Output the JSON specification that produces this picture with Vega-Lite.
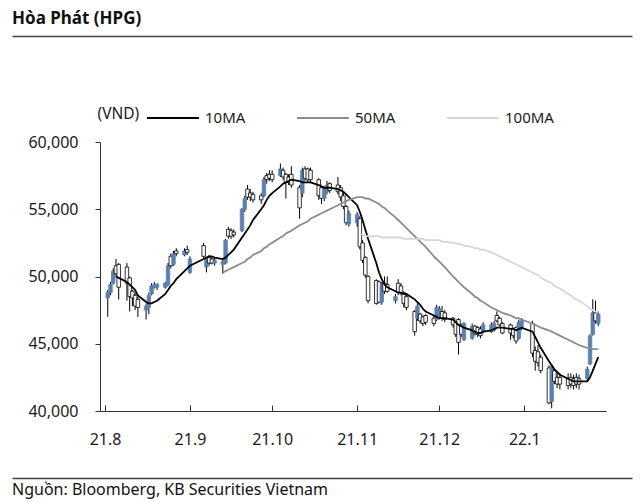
{
"$schema": "https://vega.github.io/schema/vega-lite/v6.json",
"background": "white",
"padding": {"left": 12, "top": 10, "right": 8, "bottom": 3},
"config": {"font": "Noto Sans", "view": {"stroke": null}, "axis": {"grid": false, "labelFont": "Noto Sans", "labelFontSize": 16, "labelColor": "#1a1a1a", "domainColor": "#333333", "tickColor": "#333333"}, "title": {"font": "Noto Sans"}, "legend": {"labelFont": "Noto Sans"}},
"spacing": 31,
"resolve": {"scale": {"x": "independent", "y": "independent", "color": "independent"}},
"datasets": {"px": [
{"d":"2021-08-02","o":48400,"h":49000,"l":47000,"c":48800},
{"d":"2021-08-03","o":48800,"h":49600,"l":48600,"c":49400},
{"d":"2021-08-04","o":49500,"h":50600,"l":49400,"c":50400},
{"d":"2021-08-05","o":50800,"h":51300,"l":50000,"c":50200,"10MA":50000},
{"d":"2021-08-06","o":50900,"h":51000,"l":48300,"c":49200,"10MA":49900},
{"d":"2021-08-09","o":50700,"h":51000,"l":48200,"c":49500,"10MA":49600},
{"d":"2021-08-10","o":49900,"h":50000,"l":47400,"c":48500,"10MA":49400},
{"d":"2021-08-11","o":48900,"h":49000,"l":47800,"c":48400,"10MA":49200},
{"d":"2021-08-12","o":48600,"h":48800,"l":47500,"c":47800,"10MA":49000},
{"d":"2021-08-13","o":48300,"h":48500,"l":47000,"c":47700,"10MA":48600},
{"d":"2021-08-16","o":47500,"h":48000,"l":46800,"c":47800,"10MA":48100},
{"d":"2021-08-17","o":47700,"h":48800,"l":47200,"c":48600,"10MA":48000},
{"d":"2021-08-18","o":48700,"h":49500,"l":48600,"c":49300,"10MA":48000},
{"d":"2021-08-19","o":49200,"h":49600,"l":49100,"c":49400,"10MA":48100},
{"d":"2021-08-20","o":49200,"h":49500,"l":49000,"c":49400,"10MA":48200},
{"d":"2021-08-23","o":49200,"h":49600,"l":49100,"c":49500,"10MA":48700},
{"d":"2021-08-24","o":49400,"h":51000,"l":49300,"c":50800,"10MA":49000},
{"d":"2021-08-25","o":51500,"h":51700,"l":50600,"c":50800,"10MA":49300},
{"d":"2021-08-26","o":50900,"h":51900,"l":50800,"c":51700,"10MA":49500},
{"d":"2021-08-27","o":51900,"h":52100,"l":51500,"c":51700,"10MA":49800},
{"d":"2021-08-30","o":51600,"h":52100,"l":51500,"c":51900,"10MA":50400},
{"d":"2021-08-31","o":52000,"h":52300,"l":51600,"c":51800,"10MA":50600},
{"d":"2021-09-01","o":50300,"h":51500,"l":50200,"c":51300,"10MA":50800},
{"d":"2021-09-06","o":52300,"h":52500,"l":51300,"c":51500,"10MA":51300},
{"d":"2021-09-07","o":50700,"h":51400,"l":50300,"c":51300,"10MA":51400},
{"d":"2021-09-08","o":51400,"h":51600,"l":50800,"c":51000,"10MA":51500},
{"d":"2021-09-09","o":51300,"h":51500,"l":50900,"c":51000,"10MA":51500},
{"d":"2021-09-10","o":51000,"h":51400,"l":50800,"c":51200,"10MA":51400},
{"d":"2021-09-13","o":50900,"h":51300,"l":50200,"c":51100,"10MA":51300,"50MA":50300},
{"d":"2021-09-14","o":51000,"h":52800,"l":50900,"c":52700,"10MA":51400,"50MA":50400},
{"d":"2021-09-15","o":53500,"h":53700,"l":52800,"c":53000,"10MA":51600,"50MA":50500},
{"d":"2021-09-16","o":53400,"h":53600,"l":52800,"c":53000,"10MA":51800,"50MA":50600},
{"d":"2021-09-17","o":53300,"h":53500,"l":52900,"c":53100,"10MA":52000,"50MA":50700},
{"d":"2021-09-20","o":53400,"h":55100,"l":53300,"c":55000,"10MA":52900,"50MA":51000},
{"d":"2021-09-21","o":55000,"h":56000,"l":54800,"c":55800,"10MA":53200,"50MA":51100},
{"d":"2021-09-22","o":56500,"h":56800,"l":55700,"c":55900,"10MA":53500,"50MA":51300},
{"d":"2021-09-23","o":56200,"h":56500,"l":55600,"c":55900,"10MA":53800,"50MA":51400},
{"d":"2021-09-24","o":56100,"h":56300,"l":55500,"c":55700,"10MA":54200,"50MA":51600},
{"d":"2021-09-27","o":56000,"h":56200,"l":55400,"c":55700,"10MA":55000,"50MA":51900},
{"d":"2021-09-28","o":56000,"h":57400,"l":55900,"c":57200,"10MA":55300,"50MA":52100},
{"d":"2021-09-29","o":57500,"h":57700,"l":56900,"c":57200,"10MA":55700,"50MA":52200},
{"d":"2021-09-30","o":57600,"h":57900,"l":57100,"c":57300,"10MA":56000,"50MA":52400},
{"d":"2021-10-01","o":57600,"h":57900,"l":57000,"c":57200,"10MA":56200,"50MA":52500},
{"d":"2021-10-04","o":57500,"h":58400,"l":57400,"c":58000,"10MA":56700,"50MA":52900},
{"d":"2021-10-05","o":57900,"h":58100,"l":57200,"c":57400,"10MA":56900,"50MA":53000},
{"d":"2021-10-06","o":57600,"h":57700,"l":55800,"c":57000,"10MA":57000,"50MA":53200},
{"d":"2021-10-07","o":57400,"h":57600,"l":56800,"c":57000,"10MA":57100,"50MA":53300},
{"d":"2021-10-08","o":57600,"h":58200,"l":56600,"c":56800,"10MA":57200,"50MA":53400},
{"d":"2021-10-11","o":56600,"h":56800,"l":54300,"c":55100,"10MA":57100,"50MA":53800},
{"d":"2021-10-12","o":56200,"h":58100,"l":55900,"c":57900,"10MA":57000,"50MA":53900},
{"d":"2021-10-13","o":58000,"h":58200,"l":57100,"c":57300,"10MA":57000,"50MA":54000},
{"d":"2021-10-14","o":58000,"h":58100,"l":57000,"c":57200,"10MA":57000,"50MA":54100},
{"d":"2021-10-15","o":57900,"h":58100,"l":57000,"c":57200,"10MA":57000,"50MA":54300},
{"d":"2021-10-18","o":57200,"h":57300,"l":55700,"c":56000,"10MA":56800,"50MA":54600},
{"d":"2021-10-19","o":56600,"h":56800,"l":55400,"c":55800,"10MA":56700,"50MA":54700},
{"d":"2021-10-20","o":55800,"h":56700,"l":55600,"c":56500,"10MA":56600,"50MA":54800},
{"d":"2021-10-21","o":56300,"h":57100,"l":56100,"c":56800,"10MA":56600,"50MA":54900},
{"d":"2021-10-22","o":56900,"h":57000,"l":56200,"c":56400,"10MA":56600,"50MA":55000},
{"d":"2021-10-25","o":56800,"h":57400,"l":56100,"c":56300,"10MA":56500,"50MA":55300},
{"d":"2021-10-26","o":56600,"h":56800,"l":55600,"c":55900,"10MA":56400,"50MA":55400},
{"d":"2021-10-27","o":56000,"h":56200,"l":55000,"c":55200,"10MA":56300,"50MA":55500},
{"d":"2021-10-28","o":55200,"h":55300,"l":53800,"c":54000,"10MA":56100,"50MA":55600},
{"d":"2021-10-29","o":53900,"h":54900,"l":53700,"c":54700,"10MA":55900,"50MA":55700},
{"d":"2021-11-01","o":54000,"h":54800,"l":53700,"c":54600,"10MA":55300,"50MA":55900},
{"d":"2021-11-02","o":54300,"h":54500,"l":52000,"c":52200,"10MA":54800,"50MA":55900,"100MA":53200},
{"d":"2021-11-03","o":52500,"h":52700,"l":51000,"c":51200,"10MA":54200,"50MA":55900,"100MA":53100},
{"d":"2021-11-04","o":51400,"h":51500,"l":49900,"c":50100,"10MA":53500,"50MA":55800,"100MA":53000},
{"d":"2021-11-05","o":50000,"h":50100,"l":48000,"c":48200,"10MA":52800,"50MA":55800,"100MA":53000},
{"d":"2021-11-08","o":49700,"h":49800,"l":47900,"c":48000,"10MA":51000,"50MA":55500,"100MA":53000},
{"d":"2021-11-09","o":49600,"h":49700,"l":48000,"c":48100,"10MA":50300,"50MA":55400,"100MA":53000},
{"d":"2021-11-10","o":48100,"h":49600,"l":47900,"c":49400,"10MA":49800,"50MA":55200,"100MA":52900},
{"d":"2021-11-11","o":49500,"h":50000,"l":48700,"c":48900,"10MA":49400,"50MA":55100,"100MA":52900},
{"d":"2021-11-12","o":49400,"h":50000,"l":48800,"c":48900,"10MA":49200,"50MA":54900,"100MA":52900},
{"d":"2021-11-15","o":48200,"h":48700,"l":48000,"c":48500,"10MA":48900,"50MA":54400,"100MA":52900},
{"d":"2021-11-16","o":49500,"h":49800,"l":48600,"c":48800,"10MA":48800,"50MA":54200,"100MA":52900},
{"d":"2021-11-17","o":49300,"h":49500,"l":48600,"c":48800,"10MA":48800,"50MA":54000,"100MA":52900},
{"d":"2021-11-18","o":48800,"h":48900,"l":47700,"c":48000,"10MA":48700,"50MA":53800,"100MA":52800},
{"d":"2021-11-19","o":48500,"h":48700,"l":47500,"c":47700,"10MA":48700,"50MA":53600,"100MA":52800},
{"d":"2021-11-22","o":47400,"h":47500,"l":45600,"c":45900,"10MA":48300,"50MA":53000,"100MA":52800},
{"d":"2021-11-23","o":46900,"h":48000,"l":46700,"c":47800,"10MA":48100,"50MA":52800,"100MA":52800},
{"d":"2021-11-24","o":47200,"h":47300,"l":46500,"c":46700,"10MA":47900,"50MA":52600,"100MA":52800},
{"d":"2021-11-25","o":47000,"h":47100,"l":46300,"c":46500,"10MA":47600,"50MA":52400,"100MA":52800},
{"d":"2021-11-26","o":47100,"h":47200,"l":46400,"c":46600,"10MA":47400,"50MA":52200,"100MA":52700},
{"d":"2021-11-29","o":46900,"h":47100,"l":46300,"c":46500,"10MA":47100,"50MA":51500,"100MA":52700},
{"d":"2021-11-30","o":46800,"h":47900,"l":46700,"c":47700,"10MA":47000,"50MA":51300,"100MA":52700},
{"d":"2021-12-01","o":46900,"h":47800,"l":46800,"c":47600,"10MA":46900,"50MA":51100,"100MA":52700},
{"d":"2021-12-02","o":47400,"h":47800,"l":46700,"c":46900,"10MA":46900,"50MA":50900,"100MA":52600},
{"d":"2021-12-03","o":47300,"h":47500,"l":46600,"c":46800,"10MA":46900,"50MA":50700,"100MA":52600},
{"d":"2021-12-06","o":46900,"h":47000,"l":46200,"c":46400,"10MA":46800,"50MA":50000,"100MA":52500},
{"d":"2021-12-07","o":46600,"h":46700,"l":45500,"c":45700,"10MA":46600,"50MA":49800,"100MA":52500},
{"d":"2021-12-08","o":46800,"h":46900,"l":44200,"c":45100,"10MA":46400,"50MA":49600,"100MA":52400},
{"d":"2021-12-09","o":46400,"h":46500,"l":45500,"c":45700,"10MA":46300,"50MA":49400,"100MA":52400},
{"d":"2021-12-10","o":45300,"h":46600,"l":45200,"c":46500,"10MA":46200,"50MA":49200,"100MA":52300},
{"d":"2021-12-13","o":45400,"h":46500,"l":45300,"c":46300,"10MA":46000,"50MA":48700,"100MA":52200},
{"d":"2021-12-14","o":46300,"h":46400,"l":45600,"c":45800,"10MA":45900,"50MA":48500,"100MA":52100},
{"d":"2021-12-15","o":46200,"h":46300,"l":45500,"c":45700,"10MA":45800,"50MA":48400,"100MA":52100},
{"d":"2021-12-16","o":46100,"h":46300,"l":45400,"c":45600,"10MA":45800,"50MA":48200,"100MA":52000},
{"d":"2021-12-17","o":45900,"h":46600,"l":45800,"c":46400,"10MA":45900,"50MA":48100,"100MA":52000},
{"d":"2021-12-20","o":45900,"h":46600,"l":45800,"c":46400,"10MA":46000,"50MA":47700,"100MA":51800},
{"d":"2021-12-21","o":46000,"h":46700,"l":45900,"c":46500,"10MA":46100,"50MA":47600,"100MA":51700},
{"d":"2021-12-22","o":47100,"h":47400,"l":46600,"c":46700,"10MA":46200,"50MA":47500,"100MA":51600},
{"d":"2021-12-23","o":46900,"h":47000,"l":46300,"c":46400,"10MA":46200,"50MA":47400,"100MA":51500},
{"d":"2021-12-24","o":46500,"h":46600,"l":45700,"c":45800,"10MA":46200,"50MA":47300,"100MA":51400},
{"d":"2021-12-27","o":46400,"h":46500,"l":45300,"c":45800,"10MA":46100,"50MA":47100,"100MA":51100},
{"d":"2021-12-28","o":46100,"h":46200,"l":45400,"c":45600,"10MA":46100,"50MA":47000,"100MA":51000},
{"d":"2021-12-29","o":46200,"h":46300,"l":45000,"c":45200,"10MA":46000,"50MA":46900,"100MA":50900},
{"d":"2021-12-30","o":45400,"h":46800,"l":45300,"c":46600,"10MA":46100,"50MA":46900,"100MA":50800},
{"d":"2021-12-31","o":46200,"h":46900,"l":46000,"c":46700,"10MA":46200,"50MA":46800,"100MA":50700},
{"d":"2022-01-04","o":46500,"h":46700,"l":44000,"c":44300,"10MA":45900,"50MA":46500,"100MA":50300},
{"d":"2022-01-05","o":44500,"h":44800,"l":43000,"c":43700,"10MA":45500,"50MA":46400,"100MA":50200},
{"d":"2022-01-06","o":44400,"h":44900,"l":43300,"c":43600,"10MA":45100,"50MA":46300,"100MA":50100},
{"d":"2022-01-07","o":44000,"h":44200,"l":42800,"c":43000,"10MA":44700,"50MA":46200,"100MA":49900},
{"d":"2022-01-10","o":43200,"h":43400,"l":40500,"c":40600,"10MA":43700,"50MA":46000,"100MA":49600},
{"d":"2022-01-11","o":40700,"h":43500,"l":40200,"c":43300,"10MA":43400,"50MA":45900,"100MA":49500},
{"d":"2022-01-12","o":43000,"h":43100,"l":42000,"c":42200,"10MA":43100,"50MA":45800,"100MA":49300},
{"d":"2022-01-13","o":42500,"h":42800,"l":41700,"c":42000,"10MA":42900,"50MA":45700,"100MA":49200},
{"d":"2022-01-14","o":42500,"h":42800,"l":41600,"c":42000,"10MA":42700,"50MA":45600,"100MA":49100},
{"d":"2022-01-17","o":42400,"h":42800,"l":41600,"c":41900,"10MA":42400,"50MA":45300,"100MA":48700},
{"d":"2022-01-18","o":42500,"h":42800,"l":41700,"c":42000,"10MA":42300,"50MA":45200,"100MA":48600},
{"d":"2022-01-19","o":42400,"h":42700,"l":41600,"c":41900,"10MA":42200,"50MA":45100,"100MA":48400},
{"d":"2022-01-20","o":42500,"h":42800,"l":41700,"c":42000,"10MA":42200,"50MA":45000,"100MA":48300},
{"d":"2022-01-21","o":42400,"h":42700,"l":41600,"c":42000,"10MA":42200,"50MA":44900,"100MA":48200},
{"d":"2022-01-24","o":42400,"h":43300,"l":42200,"c":43100,"10MA":42200,"50MA":44700,"100MA":47800},
{"d":"2022-01-25","o":43500,"h":45700,"l":43400,"c":45600,"10MA":42500,"50MA":44700,"100MA":47600},
{"d":"2022-01-26","o":45700,"h":48300,"l":45600,"c":47300,"10MA":43000,"50MA":44600,"100MA":47500},
{"d":"2022-01-27","o":47300,"h":48200,"l":46500,"c":46700,"10MA":43500,"50MA":44600,"100MA":47400},
{"d":"2022-01-28","o":46500,"h":47400,"l":46300,"c":47200,"10MA":44000,"50MA":44600,"100MA":47300}
]},
"vconcat": [
{
"width": 620, "height": 24,
"title": {"text": "Hòa Phát (HPG)", "anchor": "start", "frame": "group", "dx": -88, "fontSize": 17, "fontWeight": "bold", "color": "#111111", "offset": 8},
"data": {"values": []},
"mark": "rule",
"encoding": {"x": {"field": "u", "type": "quantitative", "scale": {"domain": [0, 1]}, "axis": {"orient": "top", "position": -88, "domain": true, "domainColor": "#444444", "domainWidth": 1.6, "ticks": false, "labels": false, "title": null}}}
},
{
"width": 506, "height": 269,
"data": {"name": "px"},
"layer": [
{
"mark": {"type": "rule", "color": "#000000", "strokeWidth": 1},
"encoding": {
"x": {"field": "d", "type": "temporal", "scale": {"type": "utc", "domain": [{"year": 2021, "month": 8, "date": 1, "utc": true}, {"year": 2022, "month": 1, "date": 29, "utc": true}]}, "axis": {"title": null, "format": "%y.%-m", "tickCount": {"interval": "month", "step": 1}, "tickSize": -6, "labelPadding": 26, "domainColor": "#333333"}},
"y": {"field": "l", "type": "quantitative", "scale": {"domain": [40000, 60000], "nice": false, "zero": false}, "axis": {"title": "(VND)", "titleAngle": 0, "titleAlign": "left", "titleBaseline": "middle", "titleX": -3, "titleY": -29, "titleFontSize": 15.5, "titleFontWeight": "normal", "titleColor": "#1a1a1a", "titleFont": "Noto Sans", "values": [40000, 45000, 50000, 55000, 60000], "format": ",.0f", "tickSize": 5, "labelPadding": 17, "minExtent": 88, "maxExtent": 88}},
"y2": {"field": "h"}
}
},
{
"mark": {"type": "bar", "size": 3.5, "strokeWidth": 0.8},
"encoding": {
"x": {"field": "d", "type": "temporal", "scale": {"type": "utc", "domain": [{"year": 2021, "month": 8, "date": 1, "utc": true}, {"year": 2022, "month": 1, "date": 29, "utc": true}]}, "axis": {"title": null, "format": "%y.%-m", "tickCount": {"interval": "month", "step": 1}, "tickSize": -6, "labelPadding": 26, "domainColor": "#333333"}},
"y": {"field": "o", "type": "quantitative", "scale": {"domain": [40000, 60000], "nice": false, "zero": false}, "axis": {"title": "(VND)", "titleAngle": 0, "titleAlign": "left", "titleBaseline": "middle", "titleX": -3, "titleY": -29, "titleFontSize": 15.5, "titleFontWeight": "normal", "titleColor": "#1a1a1a", "titleFont": "Noto Sans", "values": [40000, 45000, 50000, 55000, 60000], "format": ",.0f", "tickSize": 5, "labelPadding": 17, "minExtent": 88, "maxExtent": 88}},
"y2": {"field": "c"},
"fill": {"condition": {"test": "datum.c > datum.o", "value": "#5b80ad"}, "value": "#ffffff"},
"stroke": {"condition": {"test": "datum.c > datum.o", "value": "#5b80ad"}, "value": "#000000"}
}
},
{
"transform": [{"fold": ["10MA", "50MA", "100MA"], "as": ["key", "value"]}],
"mark": {"type": "line"},
"encoding": {
"x": {"field": "d", "type": "temporal", "scale": {"type": "utc", "domain": [{"year": 2021, "month": 8, "date": 1, "utc": true}, {"year": 2022, "month": 1, "date": 29, "utc": true}]}, "axis": {"title": null, "format": "%y.%-m", "tickCount": {"interval": "month", "step": 1}, "tickSize": -6, "labelPadding": 26, "domainColor": "#333333"}},
"y": {"field": "value", "type": "quantitative", "scale": {"domain": [40000, 60000], "nice": false, "zero": false}, "axis": {"title": "(VND)", "titleAngle": 0, "titleAlign": "left", "titleBaseline": "middle", "titleX": -3, "titleY": -29, "titleFontSize": 15.5, "titleFontWeight": "normal", "titleColor": "#1a1a1a", "titleFont": "Noto Sans", "values": [40000, 45000, 50000, 55000, 60000], "format": ",.0f", "tickSize": 5, "labelPadding": 17, "minExtent": 88, "maxExtent": 88}},
"color": {"field": "key", "type": "nominal", "scale": {"domain": ["10MA", "50MA", "100MA"], "range": ["#000000", "#8c8c8c", "#d6d6d6"]}, "legend": {"title": null, "orient": "none", "legendX": 46, "legendY": -51, "direction": "horizontal", "symbolType": "stroke", "symbolSize": 2700, "symbolStrokeWidth": 2, "labelFontSize": 15, "labelColor": "#1a1a1a", "labelOffset": 5, "columnPadding": 47}},
"strokeWidth": {"field": "key", "type": "nominal", "scale": {"domain": ["10MA", "50MA", "100MA"], "range": [1.8, 1.8, 2.6]}, "legend": null}
}
}
]
},
{
"width": 620, "height": 1,
"title": {"text": "Nguồn: Bloomberg, KB Securities Vietnam", "orient": "bottom", "anchor": "start", "frame": "group", "dx": -88, "fontSize": 16, "fontWeight": "normal", "color": "#111111", "offset": 3},
"data": {"values": []},
"mark": "rule",
"encoding": {"x": {"field": "u", "type": "quantitative", "scale": {"domain": [0, 1]}, "axis": {"orient": "top", "position": -88, "domain": true, "domainColor": "#444444", "domainWidth": 1.6, "ticks": false, "labels": false, "title": null}}}
}
]
}
